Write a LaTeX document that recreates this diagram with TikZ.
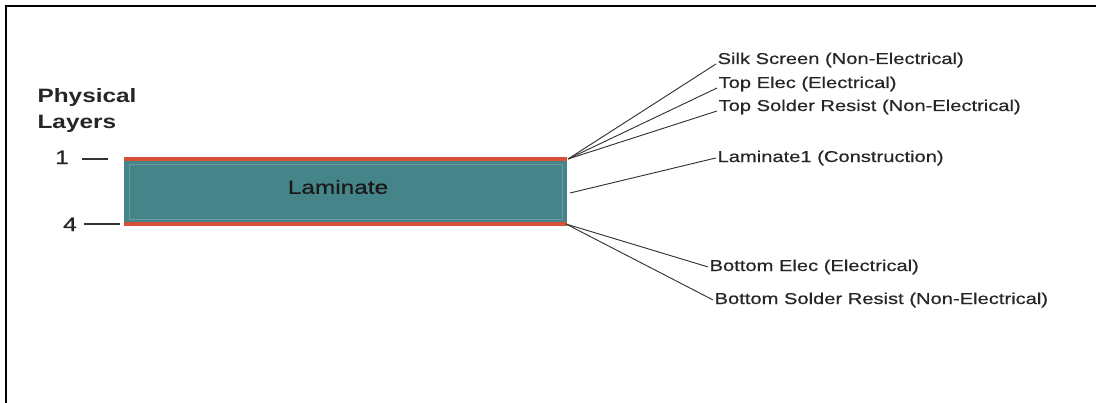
\documentclass[tikz,border=0pt]{standalone}
\usepackage{fontspec}
\newfontfamily\lblfont[FakeStretch=1.28,FakeBold=0.6]{Liberation Sans}
\newfontfamily\headfont[FakeStretch=1.26]{Liberation Sans}
\usetikzlibrary{positioning}
\definecolor{laminate}{RGB}{69,132,137}
\definecolor{copper}{RGB}{214,80,58}

\begin{document}
\begin{tikzpicture}[x=0.75pt,y=-0.75pt,
      every node/.style={inner sep=1pt, text=black!85},
      layer label/.style={anchor=base west, font=\lblfont\fontsize{11.8}{14}\selectfont},
      heading/.style={anchor=base west, font=\headfont\bfseries\fontsize{14.5}{17}\selectfont},
      layer no/.style={anchor=base, font=\lblfont\fontsize{14.5}{17}\selectfont},
      leader/.style={draw=black!80, line width=0.7pt},
      tick/.style={draw=black!80, line width=1.1pt}]
      \useasboundingbox (0,0) rectangle (1096,403);
      % frame
      \draw[line width=1.6pt] (1096,6) -- (6,6) -- (6,403);
      % stack
      \fill[laminate] (124,159) rectangle (567,224);
      \draw[laminate!80!white, line width=0.5pt] (129,164) rectangle (562,219);
      \fill[copper] (124,157) rectangle (567,161);
      \fill[copper] (124,222) rectangle (567,226);
      \node[font=\lblfont\fontsize{14.3}{17}\selectfont, text=black!90] (lam) at (338,187) {Laminate};
      \coordinate (tr) at (568,159);
      \coordinate (mr) at (570,193);
      \coordinate (br) at (566,224);
      % physical layers
      \node[heading] (phys) at (36,103) {Physical};
      \node[heading] (lays) at (36,128) {Layers};
      \node[layer no] (n_1) at (62,164) {1};
      \node[layer no] (n_4) at (70,231) {4};
      \coordinate (t_1) at (82,159);
      \coordinate (t_1e) at (108,159);
      \coordinate (t_4) at (84,224);
      \coordinate (t_4e) at (120,224);
      \draw[tick] (t_1) -- (t_1e);
      \draw[tick] (t_4) -- (t_4e);
      % layer names
      \node[layer label] (silk) at (716,64) {Silk Screen (Non-Electrical)};
      \node[layer label] (topelec) at (717,88) {Top Elec (Electrical)};
      \node[layer label] (topsr) at (717,111) {Top Solder Resist (Non-Electrical)};
      \node[layer label] (lam1) at (716,162) {Laminate1 (Construction)};
      \node[layer label] (botelec) at (708,271) {Bottom Elec (Electrical)};
      \node[layer label] (botsr) at (713,304) {Bottom Solder Resist (Non-Electrical)};
      \draw[leader] (tr) -- (silk.base west);
      \draw[leader] (tr) -- (topelec.base west);
      \draw[leader] (tr) -- (topsr.base west);
      \draw[leader] (mr) -- (lam1.west);
      \draw[leader] (br) -- (botelec.west);
      \draw[leader] (br) -- (botsr.west);
\end{tikzpicture}
\end{document}
